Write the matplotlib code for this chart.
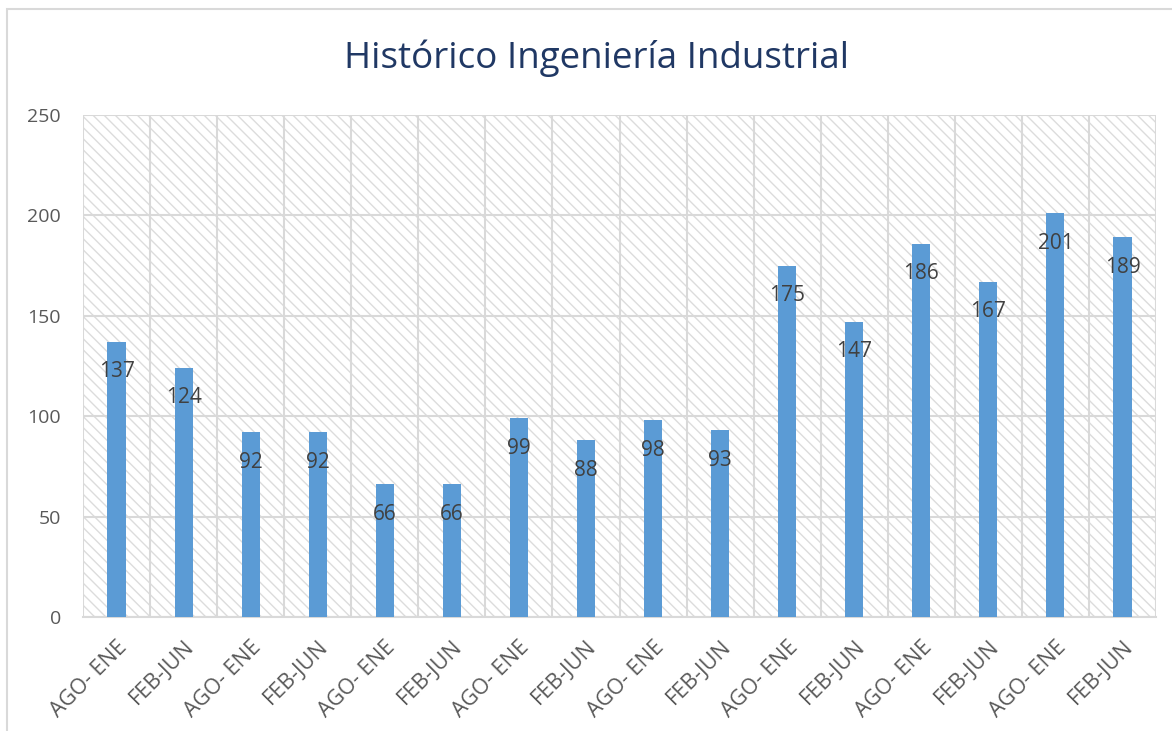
import matplotlib
matplotlib.use("Agg")
import matplotlib.pyplot as plt
from matplotlib.patches import Rectangle
import numpy as np

plt.rcParams['font.family'] = ['Open Sans', 'DejaVu Sans']
plt.rcParams['hatch.linewidth'] = 1.0

periodos = ["AGO- ENE", "FEB-JUN"] * 8
alumnos = [137, 124, 92, 92, 66, 66, 99, 88, 98, 93, 175, 147, 186, 167, 201, 189]

gris_linea = "#D9D9D9"
gris_texto = "#595959"

fig = plt.figure(figsize=(11.72, 7.31), dpi=100)
ax = fig.add_axes([83/1172, 1-617/731, (1156-83)/1172, (617-115)/731])

# borde exterior del grafico
fig.patches.append(Rectangle((7/1172, -0.02), 1.05, 1-9/731+0.02, transform=fig.transFigure,
                             facecolor="none", edgecolor=gris_linea, lw=1.5))

# fondo rayado del area de trazado
ax.add_patch(Rectangle((0, 0), 1, 1, transform=ax.transAxes, facecolor="white",
                       edgecolor="#DCDCDC", hatch="\\\\\\", lw=0, zorder=0))

x = np.arange(len(alumnos))
barras = ax.bar(x, alumnos, width=0.27, color="#5B9BD5", zorder=3)

for xi, v in zip(x, alumnos):
    ax.annotate(str(v), (xi, v), xytext=(0, -14), textcoords="offset points",
                ha="center", va="top", fontsize=15, color="#404040", zorder=4)

ax.set_xlim(-0.5, len(alumnos) - 0.5)
ax.set_ylim(0, 250)
ax.set_yticks(range(0, 251, 50))
ax.set_xticks(x)
ax.set_xticklabels(periodos, rotation=45, ha="right", rotation_mode="anchor", fontsize=15.5)
ax.set_xticks(np.arange(-0.5, len(alumnos), 1), minor=True)

ax.grid(axis="y", color=gris_linea, lw=1.5, zorder=1)
ax.grid(axis="x", which="minor", color=gris_linea, lw=1.5, zorder=1)
ax.set_axisbelow(True)

for s in ["top", "right", "left"]:
    ax.spines[s].set_visible(False)
ax.spines["bottom"].set_color(gris_linea)
ax.spines["bottom"].set_linewidth(1.5)

ax.tick_params(axis="both", which="both", length=0, labelcolor=gris_texto)
ax.tick_params(axis="y", pad=16, labelsize=14)
ax.tick_params(axis="x", pad=14)

fig.text(596/1172, 1-58/731, "Histórico Ingeniería Industrial", ha="center", va="center",
         fontsize=26.5, color="#203864")

fig.savefig("out.png", dpi=100)
